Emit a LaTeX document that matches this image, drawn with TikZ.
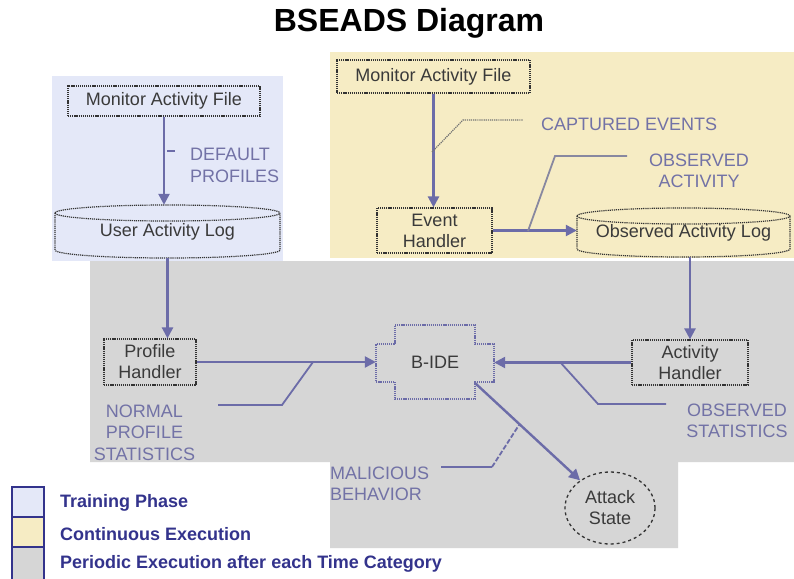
\documentclass[tikz,border=0pt]{standalone}
\usepackage{fontspec}
\setmainfont{Liberation Sans}
\usetikzlibrary{arrows.meta,calc,shapes.geometric}
\definecolor{conncol}{HTML}{6C6CA8}
\definecolor{lblcol}{HTML}{7272A6}
\definecolor{regblue}{HTML}{E4E8F8}
\definecolor{regyellow}{HTML}{F6ECC4}
\definecolor{reggray}{HTML}{D6D6D6}
\definecolor{legcol}{HTML}{33338C}
\definecolor{txtcol}{HTML}{3A3A3A}
\definecolor{leadgray}{HTML}{8888A0}
\tikzset{
  boxline/.style={draw=black!80, line width=1.2pt, dash pattern=on 1.2pt off 0.9pt},
  procbox/.style={boxline, rectangle, inner sep=0pt, align=center, text=txtcol,
    font=\fontsize{18}{21}\selectfont},
  plaintext/.style={inner sep=0pt, align=center, text=txtcol, font=\fontsize{18}{21}\selectfont},
  lbl/.style={inner sep=0pt, text=lblcol, font=\fontsize{18}{21.5}\selectfont},
  conn/.style={draw=conncol, line width=2.4pt, -{Triangle[length=11pt,width=11pt]}},
  leader/.style={draw=conncol, line width=1.8pt},
  legbox/.style={draw=legcol, line width=2.5pt},
  legtext/.style={inner sep=0pt, anchor=west, text=legcol, font=\bfseries\fontsize{18}{21}\selectfont},
}
\begin{document}
\begin{tikzpicture}[x=1pt,y=-1pt]
\useasboundingbox (0,0) rectangle (794,578);
\fill[white] (0,0) rectangle (794,578);
% regions
\fill[regblue] (52,76) rectangle (283,261);
\fill[regyellow] (330,52) rectangle (794,258);
\fill[reggray] (90,261) -- (794,261) -- (794,462) -- (678,462) -- (678,548) -- (330,548) -- (330,462) -- (90,462) -- cycle;
% title
\node[inner sep=0pt, font=\bfseries\fontsize{32}{36}\selectfont] (title) at (409,23) {BSEADS Diagram};
% nodes
\node[procbox, minimum width=192pt, minimum height=30pt] (m1) at (164,101) {Monitor Activity File};
\node[procbox, minimum width=193pt, minimum height=33pt] (m2) at (433.5,76.5) {Monitor Activity File};
\node[procbox, minimum width=115pt, minimum height=45pt] (eh) at (434.5,230.5) {Event\\Handler};
\node[procbox, minimum width=92pt, minimum height=46pt] (ph) at (150,362) {Profile\\Handler};
\node[procbox, minimum width=116pt, minimum height=45pt] (ah) at (690,362.5) {Activity\\Handler};
% log shapes
\node[plaintext, minimum width=225pt, minimum height=53pt] (ual) at (167.5,231.5) {\raisebox{-5pt}{User Activity Log}};
\draw[boxline] (55,213) .. controls (55,208.6) and (105.4,205) .. (167.5,205) .. controls (229.6,205) and (280,208.6) .. (280,213)
  (55,213) .. controls (55,217.4) and (105.4,221) .. (167.5,221) .. controls (229.6,221) and (280,217.4) .. (280,213)
  (55,213) -- (55,250) .. controls (55,254.4) and (105.4,258) .. (167.5,258) .. controls (229.6,258) and (280,254.4) .. (280,250) -- (280,213);
\node[plaintext, minimum width=213pt, minimum height=49pt] (oal) at (683.5,232.5) {\raisebox{-4pt}{Observed Activity Log}};
\draw[boxline] (577,216) .. controls (577,211.6) and (624.7,208) .. (683.5,208) .. controls (742.3,208) and (790,211.6) .. (790,216)
  (577,216) .. controls (577,220.4) and (624.7,224) .. (683.5,224) .. controls (742.3,224) and (790,220.4) .. (790,216)
  (577,216) -- (577,249) .. controls (577,253.4) and (624.7,257) .. (683.5,257) .. controls (742.3,257) and (790,253.4) .. (790,249) -- (790,216);
% B-IDE cross
\node[plaintext, minimum width=118pt, minimum height=74pt] (bide) at (435,362) {B-IDE};
\draw[draw=conncol, line width=1.4pt, dash pattern=on 1.2pt off 0.9pt]
  (395,325) -- (475,325) -- (475,344) -- (494,344) -- (494,382) -- (475,382) -- (475,399)
  -- (395,399) -- (395,382) -- (376,382) -- (376,344) -- (395,344) -- cycle;
\coordinate (bidecorner) at (475,383);
% attack state
\node[ellipse, draw=black!80, line width=1.3pt, dashed, minimum width=90pt, minimum height=72pt,
  inner sep=0pt, align=center, text=txtcol, font=\fontsize{18}{21}\selectfont] (att) at (610,508) {Attack\\State};
% connectors
\draw[conn] (m1.south) -- (m1.south |- ual.north);
\draw[conn] (ual.south) -- (ual.south |- ph.north);
\draw[conn] (m2.south) -- (m2.south |- eh.north);
\draw[conn] (eh.east) -- (eh.east -| oal.west);
\draw[conn] (ah.north |- oal.south) -- (ah.north);
\draw[conn] (ph.east) -- (ph.east -| bide.west);
\draw[conn] (ah.west) -- (ah.west -| bide.east);
\draw[conn] (bidecorner) -- (att);
% labels
\node[lbl, anchor=west, align=left] (defp) at (190,165.5) {DEFAULT\\PROFILES};
\node[lbl, anchor=west] (cap) at (541,124) {CAPTURED EVENTS};
\node[lbl, align=center] (obsa) at (699,171) {OBSERVED\\ACTIVITY};
\node[lbl, align=center] (nps) at (144.5,432.5) {NORMAL\\PROFILE\\STATISTICS};
\node[lbl, align=center] (obss) at (737,421) {OBSERVED\\STATISTICS};
\node[lbl, anchor=west, align=left] (mal) at (330,484) {MALICIOUS\\BEHAVIOR};
% leader lines
\coordinate (d1) at (167,151); \coordinate (d2) at (175,151);
\draw[draw=conncol, line width=1.2pt] (d1) -- (d2);
\coordinate (c1) at (432,152); \coordinate (c2) at (463,120); \coordinate (c3) at (523,120);
\draw[draw=black!55, line width=1.2pt, dash pattern=on 1.2pt off 0.9pt] (c1) -- (c2) -- (c3);
\coordinate (o1) at (528,231); \coordinate (o2) at (555,156); \coordinate (o3) at (627,156);
\draw[draw=leadgray, line width=1.8pt] (o1) -- (o2) -- (o3);
\coordinate (n1) at (218,405); \coordinate (n2) at (282,405); \coordinate (n3) at (313,362);
\draw[leader] (n1) -- (n2) -- (n3);
\coordinate (s1) at (560,362); \coordinate (s2) at (598,404); \coordinate (s3) at (666,404);
\draw[leader] (s1) -- (s2) -- (s3);
\coordinate (b1) at (441,467); \coordinate (b2) at (492,467); \coordinate (b3) at (519,425);
\draw[leader] (b1) -- (b2);
\draw[leader, dash pattern=on 5pt off 2pt] (b2) -- (b3);
% legend
\fill[regblue] (12,487) rectangle (44,517);
\fill[regyellow] (12,517) rectangle (44,547);
\fill[reggray] (12,547) rectangle (44,580);
\draw[legbox] (12,487) rectangle (44,517);
\draw[legbox] (12,517) rectangle (44,547);
\draw[legbox] (12,547) -- (12,580) (44,547) -- (44,580);
\node[legtext] (lg1) at (60,503) {Training Phase};
\node[legtext] (lg2) at (60,534) {Continuous Execution};
\node[legtext] (lg3) at (60,564) {Periodic Execution after each Time Category};
\end{tikzpicture}
\end{document}
